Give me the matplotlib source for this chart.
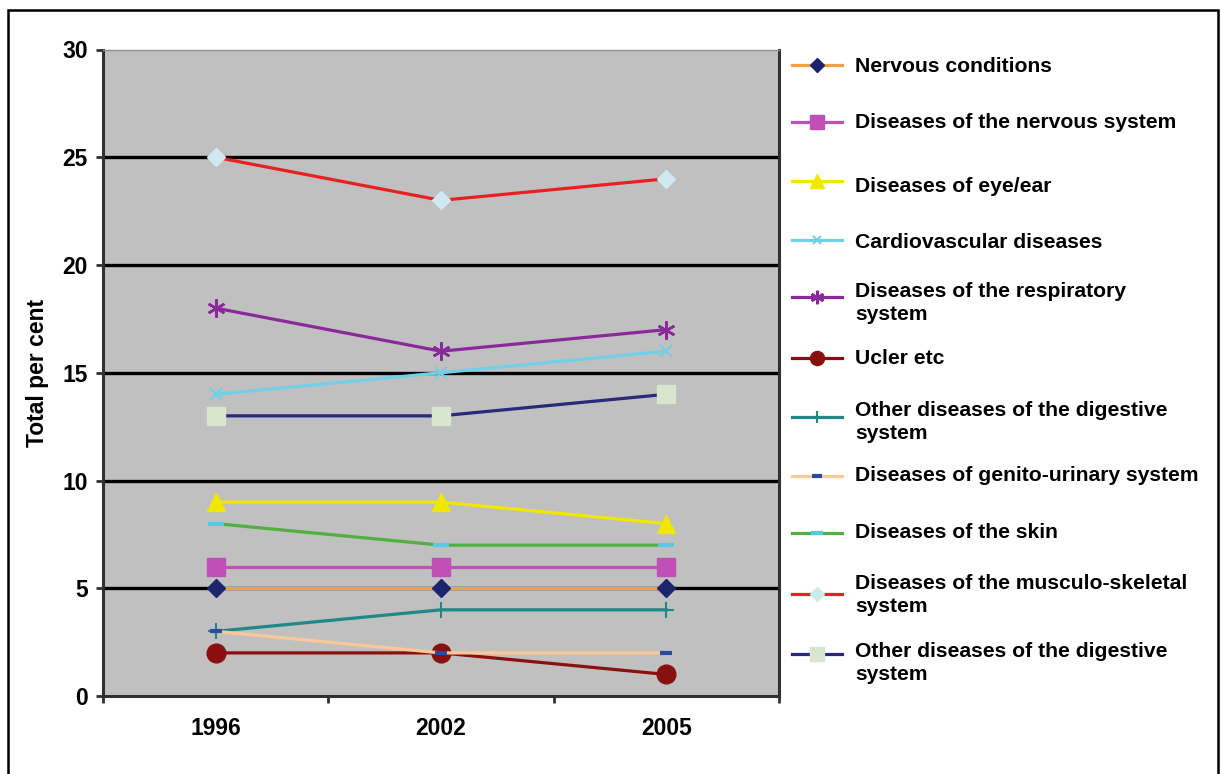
import matplotlib
matplotlib.use('Agg')
import matplotlib.pyplot as plt
from matplotlib.lines import Line2D
from matplotlib.patches import Rectangle

plt.rcParams['font.family'] = ['Liberation Sans', 'DejaVu Sans']
plt.rcParams['font.weight'] = 'bold'

# === DATA ===
years = ['1996', '2002', '2005']

nervous_conditions = [5, 5, 5]
nervous_system = [6, 6, 6]
eye_ear = [9, 9, 8]
cardiovascular = [14, 15, 16]
respiratory = [18, 16, 17]
ucler = [2, 2, 1]
other_digestive = [3, 4, 4]
genito_urinary = [3, 2, 2]
skin = [8, 7, 7]
musculo_skeletal = [25, 23, 24]
other_digestive_2 = [13, 13, 14]

labels = [
    'Nervous conditions',
    'Diseases of the nervous system',
    'Diseases of eye/ear',
    'Cardiovascular diseases',
    'Diseases of the respiratory\nsystem',
    'Ucler etc',
    'Other diseases of the digestive\nsystem',
    'Diseases of genito-urinary system',
    'Diseases of the skin',
    'Diseases of the musculo-skeletal\nsystem',
    'Other diseases of the digestive\nsystem',
]
values = [nervous_conditions, nervous_system, eye_ear, cardiovascular,
          respiratory, ucler, other_digestive, genito_urinary, skin,
          musculo_skeletal, other_digestive_2]

# === STYLE ===
# (line colour, marker, marker face, marker size, marker edge width)
styles = [
    ('#f4a040', 'D', '#1c2470', 9.5, 1),
    ('#c050b8', 's', '#c050b8', 13, 1),
    ('#f0e800', '^', '#f0e800', 13, 1),
    ('#70d0e8', 'x', '#70d0e8', 8, 1.5),
    ('#8a2a9a', (6, 2, 0), '#8a2a9a', 13, 1.8),
    ('#8a1010', 'o', '#8a1010', 13.5, 1),
    ('#208888', '+', '#208888', 11, 1.5),
    ('#fcc898', '_', '#2a4aa0', 9, 3),
    ('#50b040', '_', '#58c8e8', 11, 3),
    ('#e82020', 'D', '#d0e8f0', 9, 1),
    ('#28287c', 's', '#d8e6d0', 13, 1),
]

W, H = 1221, 774
fig = plt.figure(figsize=(W / 100, H / 100), dpi=100)

# plot area in pixels
left, right, top, bottom = 103, 779, 49.5, 696
ax = fig.add_axes([left / W, 1 - bottom / H, (right - left) / W, (bottom - top) / H])
ax.set_facecolor('#c0c0c0')

x = list(range(len(years)))
for vals, (lc, mk, mfc, ms, mew) in zip(values, styles):
    ax.plot(x, vals, color=lc, lw=2.3, marker=mk, markersize=ms,
            markerfacecolor=mfc, markeredgecolor=mfc, markeredgewidth=mew,
            zorder=3, clip_on=False)

ax.set_xlim(-0.5, 2.5)
ax.set_ylim(0, 30)
ax.set_yticks(range(0, 31, 5))
for yv in range(5, 30, 5):
    ax.axhline(yv, color='black', lw=2.4, zorder=1)

ax.set_xticks(x)
ax.set_xticklabels(years, fontsize=16.5, fontweight='bold')
ax.set_xticks([-0.5, 0.5, 1.5, 2.5], minor=True)
ax.tick_params(axis='x', which='major', length=0, pad=15)
ax.tick_params(axis='x', which='minor', length=5, width=2, color='#303030', direction='out')
ax.tick_params(axis='y', length=5, width=2, color='#303030', pad=6, labelsize=16.5)
for lab in ax.get_yticklabels():
    lab.set_fontweight('bold')

for side in ['left', 'bottom', 'right']:
    ax.spines[side].set_color('#303030')
    ax.spines[side].set_linewidth(2.2)
ax.spines['top'].set_color('#909090')
ax.spines['top'].set_linewidth(1)

fig.text(38 / W, 1 - 373 / H, 'Total per cent', rotation=90, ha='center', va='center',
         fontsize=16.5, fontweight='bold')

# === LEGEND (hand placed, uneven row spacing) ===
handle_y = [65, 122, 181, 240, 297, 358, 417, 476, 533, 594, 654]
text_y = [67, 123, 187, 242, 303, 358, 422, 476, 533, 595, 663]
hx0, hx1, tx = 792, 842, 855
for (lc, mk, mfc, ms, mew), lab, hy, ty in zip(styles, labels, handle_y, text_y):
    yy = 1 - hy / H
    fig.add_artist(Line2D([hx0 / W, (hx0 + hx1) / 2 / W, hx1 / W], [yy, yy, yy],
                          transform=fig.transFigure, color=lc, lw=2.3,
                          marker=mk, markevery=[1], markersize=ms * 0.75,
                          markerfacecolor=mfc, markeredgecolor=mfc,
                          markeredgewidth=mew))
    fig.text(tx / W, 1 - ty / H, lab, ha='left', va='center', fontsize=15.2,
             fontweight='bold', linespacing=1.25)

# outer frame (runs past the bottom edge)
fig.add_artist(Rectangle((8 / W, -0.05), (1217.5 - 8) / W, (H - 10) / H + 0.05,
                         transform=fig.transFigure, fill=False, edgecolor='black',
                         lw=1.8, clip_on=False))

fig.savefig('out.png', dpi=100)
